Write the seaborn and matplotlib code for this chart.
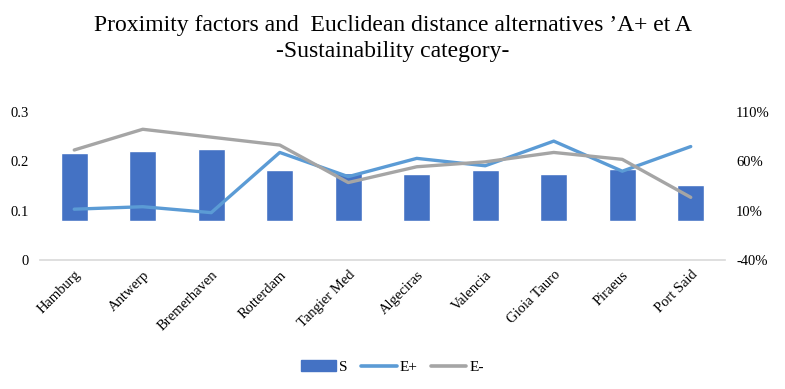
import matplotlib
matplotlib.use("Agg")
import matplotlib.pyplot as plt
import seaborn as sns
import pandas as pd
from matplotlib.patches import Patch
from matplotlib.lines import Line2D

ports = ["Hamburg", "Antwerp", "Bremerhaven", "Rotterdam", "Tangier Med",
         "Algeciras", "Valencia", "Gioia Tauro", "Piraeus", "Port Said"]
S = [0.681, 0.708, 0.722, 0.514, 0.479, 0.475, 0.512, 0.475, 0.522, 0.357]
E_plus = [0.103, 0.108, 0.096, 0.218, 0.169, 0.206, 0.191, 0.241, 0.180, 0.230]
E_minus = [0.223, 0.265, 0.249, 0.233, 0.157, 0.189, 0.199, 0.218, 0.204, 0.127]
left_ticks = [0, 0.1, 0.2, 0.3]
left_labels = ["0", "0.1", "0.2", "0.3"]
right_ticks = [-0.4, 0.1, 0.6, 1.1]
right_labels = ["-40%", "10%", "60%", "110%"]

df = pd.DataFrame({"port": ports, "S": S, "E+": E_plus, "E-": E_minus})

sns.set_theme(style="white")
plt.rcParams["font.family"] = ["Liberation Serif", "DejaVu Serif"]
plt.rcParams["text.color"] = "black"

c_s, c_ep, c_em = "#4472C4", "#5B9BD5", "#A5A5A5"

fig = plt.figure(figsize=(7.85, 3.89), dpi=100)
ax = fig.add_axes([40/785, 1-260/389, 685/785, 148/389])
ax2 = ax.twinx()

sns.barplot(data=df, x="port", y="S", ax=ax2, color=c_s, width=0.39,
            saturation=1, order=ports)
sns.lineplot(data=df, x="port", y="E+", ax=ax, color=c_ep, lw=2.4, sort=False)
sns.lineplot(data=df, x="port", y="E-", ax=ax, color=c_em, lw=2.4, sort=False)

ax.set_zorder(ax2.get_zorder() + 1)
ax.patch.set_visible(False)

ax.set_ylim(0, 0.3)
ax2.set_ylim(-0.4, 1.1)
ax.set_xlim(-0.5, 9.5)
ax.set_yticks(left_ticks)
ax.set_yticklabels(left_labels)
ax2.set_yticks(right_ticks)
ax2.set_yticklabels(right_labels)
for a in (ax, ax2):
    a.set_xlabel("")
    a.set_ylabel("")
    for sp in a.spines.values():
        sp.set_visible(False)
    a.tick_params(length=0, labelsize=10.5, colors="black")
ax.tick_params(axis="y", pad=8)
ax2.tick_params(axis="y", pad=8)
ax2.spines["bottom"].set_visible(True)
ax2.spines["bottom"].set_color("#D9D9D9")
ax2.spines["bottom"].set_linewidth(1.2)

ax.set_xticks(range(len(ports)))
ax.set_xticklabels(ports, rotation=45, ha="right", rotation_mode="anchor",
                   fontsize=10.5)
ax.tick_params(axis="x", pad=6)

fig.text(0.5, 1-25/389, "Proximity factors and  Euclidean distance alternatives \u2019A+ et A",
         ha="center", va="center", fontsize=17, color="black")
fig.text(0.5, 1-51/389, "-Sustainability category-", ha="center", va="center",
         fontsize=17, color="black")

handles = [Patch(color=c_s), Line2D([], [], color=c_ep, lw=2.6),
           Line2D([], [], color=c_em, lw=2.6)]
fig.legend(handles, ["S", "E+", "E-"], loc="center", ncol=3,
           bbox_to_anchor=(0.5, 1-367/389), frameon=False, fontsize=11,
           handlelength=2.3, handletextpad=0.2, columnspacing=0.9)

fig.savefig("out.png", dpi=100)
